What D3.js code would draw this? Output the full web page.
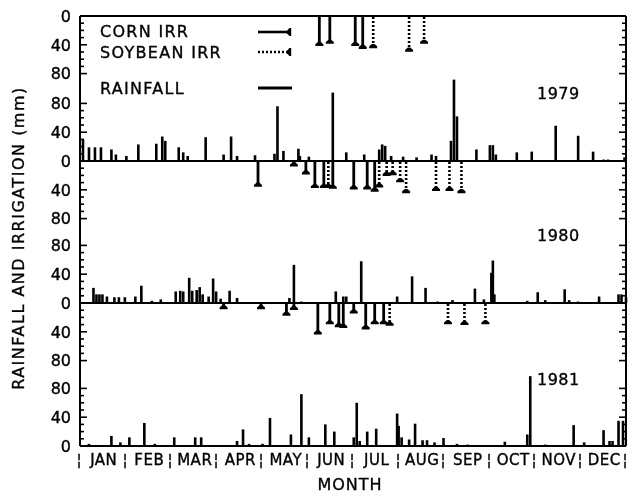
<!DOCTYPE html>
<html>
<head>
<meta charset="utf-8">
<script src="https://cdn.jsdelivr.net/npm/d3@7"></script>
<style>
  html, body { margin: 0; padding: 0; background: #fff; }
  svg { display: block; will-change: transform; }
  text { font-family: "DejaVu Sans", sans-serif; fill: #000; stroke: #000; stroke-width: 0.35px; }
</style>
</head>
<body>
<svg id="chart" width="635" height="497"></svg>
<script>
// ---------------- DATA ----------------
const months = ["JAN","FEB","MAR","APR","MAY","JUN","JUL","AUG","SEP","OCT","NOV","DEC"];
const years = ["1979","1980","1981"];
const irrTicks = [0, 40, 80];
const rainTicks = [80, 40, 0];

// [day of year, mm]
const rain1979 = [[2,30],[6,19],[10,19],[14,19],[21,16],[24,9],[31,7],[39,23],[51,24],[55,34],[57,28],[66,19],[69,12],[72,7],[84,33],[96,9],[101,34],[105,7],[117,8],[130,10],[132,76],[136,14],[146,17],[147,7],[153,6],[169,95],[178,12],[190,9],[200,16],[202,23],[204,21],[208,7],[216,6],[225,5],[235,9],[238,7],[248,28],[250,113],[252,62],[265,16],[274,22],[276,22],[278,9],[292,12],[302,13],[318,49],[333,35],[343,13],[350,2],[353,2],[364,5]];
const corn1979 = [[160,40],[167,37],[184,40],[189,44]];
const soy1979 = [[196,43],[220,48],[230,37]];

const rain1980 = [[9,21],[11,12],[13,12],[15,12],[18,9],[23,8],[26,8],[30,8],[37,9],[41,24],[48,3],[54,5],[64,16],[67,17],[69,16],[73,35],[75,17],[78,18],[80,22],[82,12],[86,9],[89,34],[91,16],[94,6],[100,17],[105,7],[140,7],[143,53],[148,2],[171,16],[176,9],[178,9],[188,58],[212,9],[222,37],[231,21],[239,2],[249,4],[264,20],[270,5],[275,42],[276,59],[277,12],[299,3],[306,15],[311,4],[324,19],[327,4],[333,2],[347,9],[360,12],[362,12],[365,8]];
const corn1980 = [[119,34],[143,6],[151,17],[157,36],[163,36],[169,37],[183,38],[192,38],[197,41]];
const soy1980 = [[166,36],[200,35],[205,19],[209,18],[214,28],[218,43],[238,40],[247,40],[255,43]];

const rain1981 = [[6,3],[21,14],[27,5],[33,12],[43,32],[50,3],[63,12],[77,12],[81,12],[105,7],[109,23],[113,3],[122,3],[127,39],[141,16],[148,72],[153,12],[164,30],[170,20],[183,12],[185,60],[187,7],[192,20],[198,24],[212,45],[213,28],[215,12],[220,9],[224,31],[229,8],[232,8],[237,5],[243,11],[252,3],[259,2],[284,6],[299,16],[301,97],[311,2],[330,29],[337,5],[350,22],[354,7],[356,7],[360,35],[363,35]];
const corn1981 = [[96,7],[121,7],[138,16],[143,8],[159,42],[167,28],[173,32],[176,33],[183,13],[191,35],[197,28],[203,28]];
const soy1981 = [[207,30],[246,28],[257,29],[271,28]];

const rainByYear = [rain1979, rain1980, rain1981];
const cornByYear = [corn1979, corn1980, corn1981];
const soyByYear = [soy1979, soy1980, soy1981];

// ---------------- LAYOUT ----------------
const svg = d3.select("#chart");
const L = 80, R = 626;
const panelTops = [16, 161, 303];
const panelBases = [161, 303, 446];
const pxPerMm = 0.72;

const x = d3.scaleLinear().domain([0, 365]).range([L, R]);

const g = svg.append("g");

function capPath(cx, cy, dir) {
  const p = d3.path();
  p.moveTo(cx - 4, cy + 1.2 * dir);
  p.lineTo(cx + 4, cy + 1.2 * dir);
  p.lineTo(cx + 4, cy - 0.6 * dir);
  p.lineTo(cx + 1.3, cy - 3 * dir);
  p.lineTo(cx - 1.3, cy - 3 * dir);
  p.lineTo(cx - 4, cy - 0.6 * dir);
  p.closePath();
  return p.toString();
}

years.forEach((yr, i) => {
  const top = panelTops[i], base = panelBases[i];
  const yIrr = d3.scaleLinear().domain([0, 80]).range([top, top + 80 * pxPerMm]);
  const yRain = d3.scaleLinear().domain([0, 80]).range([base, base - 80 * pxPerMm]);

  g.append("g").selectAll("rect").data(rainByYear[i]).join("rect")
    .attr("x", d => x(d[0]) - 1.3)
    .attr("width", 2.6)
    .attr("y", d => yRain(d[1]))
    .attr("height", d => base - yRain(d[1]))
    .attr("fill", "#000");

  const cg = g.append("g");
  cg.selectAll("line").data(cornByYear[i]).join("line")
    .attr("x1", d => x(d[0])).attr("x2", d => x(d[0]))
    .attr("y1", top).attr("y2", d => yIrr(d[1]))
    .attr("stroke", "#000").attr("stroke-width", 2.8);
  cg.selectAll("path").data(cornByYear[i]).join("path")
    .attr("d", d => capPath(x(d[0]), yIrr(d[1]), 1))
    .attr("fill", "#000");

  const sg = g.append("g");
  sg.selectAll("line").data(soyByYear[i]).join("line")
    .attr("x1", d => x(d[0])).attr("x2", d => x(d[0]))
    .attr("y1", top + 1).attr("y2", d => yIrr(d[1]))
    .attr("stroke", "#000").attr("stroke-width", 2.6)
    .attr("stroke-dasharray", "2,2");
  sg.selectAll("path").data(soyByYear[i]).join("path")
    .attr("d", d => capPath(x(d[0]), yIrr(d[1]), 1))
    .attr("fill", "#000");

  const tickVals = d3.range(10, 90, 10);
  const tg = g.append("g").attr("stroke", "#000").attr("stroke-width", 1.6);
  tickVals.forEach(v => {
    const len = (v % 40 === 0) ? 7 : 4;
    [yIrr(v), yRain(v)].forEach(yy => {
      tg.append("line").attr("x1", L).attr("x2", L + len).attr("y1", yy).attr("y2", yy);
      tg.append("line").attr("x1", R).attr("x2", R - len).attr("y1", yy).attr("y2", yy);
    });
  });

  irrTicks.forEach(v => {
    if (i > 0 && v === 0) return;
    g.append("text").attr("x", 71).attr("y", yIrr(v)).attr("dy", "0.36em")
      .attr("text-anchor", "end").attr("font-size", 16).text(v);
  });
  rainTicks.forEach(v => {
    g.append("text").attr("x", 71).attr("y", yRain(v)).attr("dy", "0.36em")
      .attr("text-anchor", "end").attr("font-size", 16).text(v);
  });

  const yearY = [99, 241, 385][i];
  g.append("text").attr("x", 537).attr("y", yearY).attr("font-size", 16)
    .attr("letter-spacing", 0.5).text(yr);
});

const fr = g.append("g").attr("stroke", "#000").attr("stroke-width", 2).attr("fill", "none");
fr.append("line").attr("x1", L).attr("x2", L).attr("y1", panelTops[0]).attr("y2", panelBases[2]);
fr.append("line").attr("x1", R).attr("x2", R).attr("y1", panelTops[0]).attr("y2", panelBases[2]);
[panelTops[0]].concat(panelBases).forEach(yy => {
  fr.append("line").attr("x1", L).attr("x2", R).attr("y1", yy).attr("y2", yy);
});

const mw = (R - L) / 12;
months.forEach((m, i) => {
  g.append("text").attr("x", Math.round(L + i * mw - 1)).attr("y", 465).attr("text-anchor", "middle")
    .attr("font-size", 15).text("¦");
  g.append("text").attr("x", L + i * mw + mw / 2 + 1).attr("y", 465).attr("text-anchor", "middle")
    .attr("font-size", 15).attr("letter-spacing", 0.5).text(m);
});
g.append("text").attr("x", R - 1).attr("y", 465).attr("text-anchor", "middle")
  .attr("font-size", 15).text("¦");

g.append("text").attr("x", 350).attr("y", 490).attr("text-anchor", "middle")
  .attr("font-size", 16).attr("letter-spacing", 1).text("MONTH");
g.append("text").attr("transform", "translate(24,238) rotate(-90)")
  .attr("text-anchor", "middle").attr("font-size", 16).attr("letter-spacing", 1.5)
  .text("RAINFALL AND IRRIGATION (mm)");

const leg = g.append("g");
const legItems = [
  {label: "CORN IRR", y: 37, ly: 32, type: "corn"},
  {label: "SOYBEAN IRR", y: 58, ly: 52, type: "soy"},
  {label: "RAINFALL", y: 94, ly: 88, type: "rain"}
];
legItems.forEach(it => {
  leg.append("text").attr("x", 100).attr("y", it.y).attr("font-size", 16)
    .attr("letter-spacing", 1.3).text(it.label);
  const ln = leg.append("line").attr("x1", 258).attr("x2", it.type === "rain" ? 292 : 288)
    .attr("y1", it.ly).attr("y2", it.ly).attr("stroke", "#000")
    .attr("stroke-width", it.type === "rain" ? 3 : 2.6);
  if (it.type === "soy") ln.attr("stroke-dasharray", "2,2");
  if (it.type !== "rain") {
    leg.append("path").attr("transform", `translate(290,${it.ly}) rotate(-90)`)
      .attr("d", capPath(0, 0, 1)).attr("fill", "#000");
  }
});
</script>
</body>
</html>
